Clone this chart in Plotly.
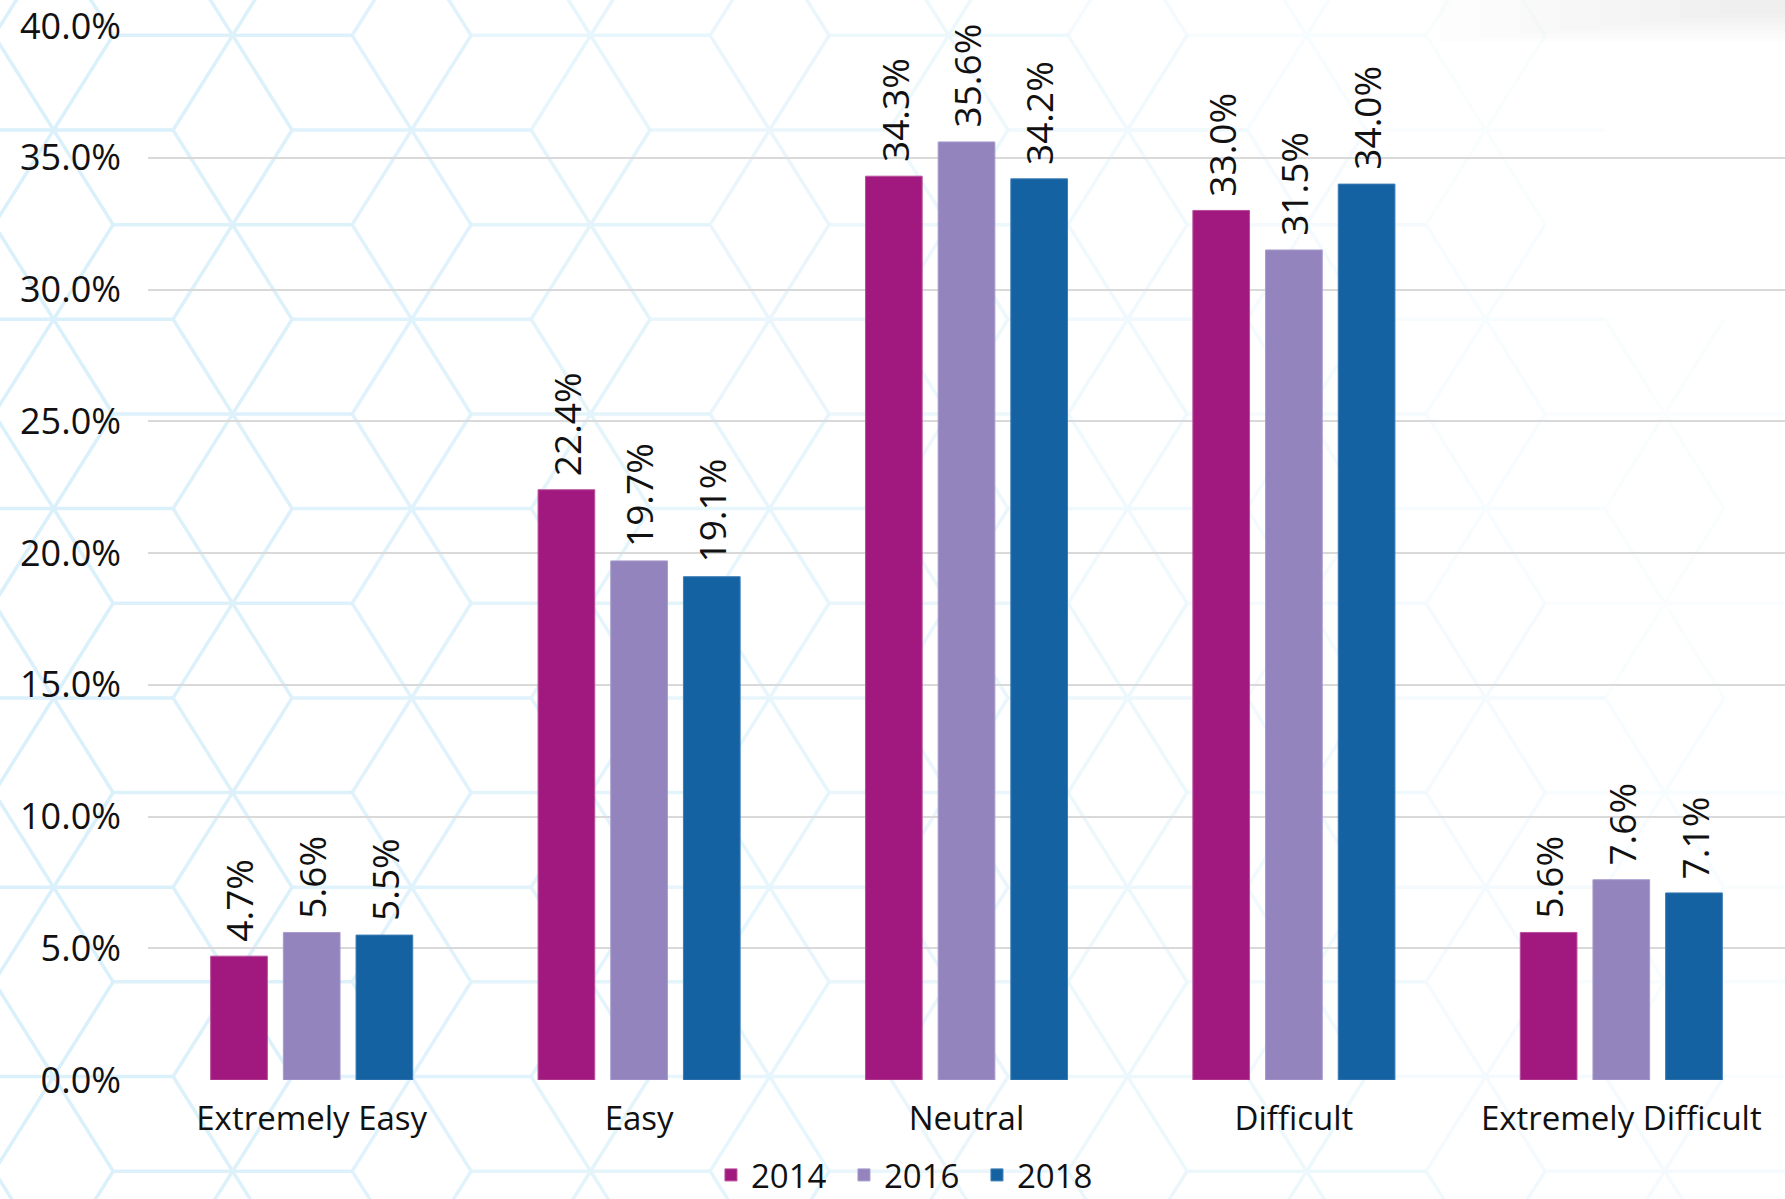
import plotly.graph_objects as go

# ---- data -------------------------------------------------------------
categories = ["Extremely Easy", "Easy", "Neutral", "Difficult", "Extremely Difficult"]
years = ["2014", "2016", "2018"]
values_2014 = [4.7, 22.4, 34.3, 33.0, 5.6]
values_2016 = [5.6, 19.7, 35.6, 31.5, 7.6]
values_2018 = [5.5, 19.1, 34.2, 34.0, 7.1]
y_tick_values = [0, 5, 10, 15, 20, 25, 30, 35, 40]
y_tick_labels = ["0.0%", "5.0%", "10.0%", "15.0%", "20.0%", "25.0%", "30.0%", "35.0%", "40.0%"]

series = [values_2014, values_2016, values_2018]
colors = ["#a1197e", "#9384be", "#1562a3"]
edge_colors = ["#b8509c", "#a89bcc", "#3c7cb5"]

# ---- page geometry ----------------------------------------------------
W, H = 1785, 1199
ML, MR, MT, MB = 148, 0, 26, 119
PW, PH = W - ML - MR, H - MT - MB
FONT = "Open Sans"

BARGAP = 0.334
BARGROUPGAP = 0.22
slot = (1 - BARGAP) / len(series)


def to_paper(x, y):
    return (x - ML) / PW, 1 - (y - MT) / PH


# ---- decorative hexagon lattice in the background --------------------
col_step, row_step = 179.0, 189.3
half_h, diag_dx, diag_dy = 119.5, 59.5, row_step / 2
levels = 12
paths = [[] for _ in range(levels)]


def strength(x, y):
    # lattice fades out towards the right, most quickly near the top
    s = 1 - (x / W) * (0.78 + 0.27 * (1 - y / H))
    return max(0.0, min(1.0, s))


for i in range(-1, 12):
    cx = 53.6 + col_step * i
    base = 130.0 if i % 2 == 0 else 130.0 - diag_dy
    for k in range(-1, 8):
        cy = base + row_step * k
        segs = [
            ((cx - half_h, cy), (cx + half_h, cy)),
            ((cx - diag_dx, cy + diag_dy), (cx + diag_dx, cy - diag_dy)),
            ((cx - diag_dx, cy - diag_dy), (cx + diag_dx, cy + diag_dy)),
        ]
        for (x0, y0), (x1, y1) in segs:
            s = strength((x0 + x1) / 2, (y0 + y1) / 2)
            lvl = min(levels - 1, int(s * levels))
            a = to_paper(x0, y0)
            b = to_paper(x1, y1)
            paths[lvl].append(f"M{a[0]:.5f},{a[1]:.5f}L{b[0]:.5f},{b[1]:.5f}")

shapes = []
base_rgb = (216, 239, 250)
for lvl, segs in enumerate(paths):
    if not segs or lvl == 0:
        continue
    s = (lvl + 0.5) / levels
    r, g, b = (round(255 - (255 - c) * s) for c in base_rgb)
    shapes.append(dict(type="path", xref="paper", yref="paper", layer="below",
                       path="".join(segs), line=dict(color=f"rgb({r},{g},{b})", width=3.5)))

# soft grey shade in the upper-right corner
for k in range(8):
    x0p, y0p = to_paper(1440 + 40 * k, 0)
    x1p, y1p = to_paper(W, 42 - 4 * k)
    shapes.append(dict(type="rect", xref="paper", yref="paper", layer="below",
                       x0=x0p, x1=x1p, y0=y1p, y1=y0p,
                       fillcolor="rgba(120,120,120,0.014)", line=dict(width=0)))

# ---- bars -------------------------------------------------------------
fig = go.Figure()
for name, vals, col, ecol in zip(years, series, colors, edge_colors):
    fig.add_trace(go.Bar(
        x=categories, y=vals, name=name,
        marker=dict(color=col, line=dict(color=ecol, width=1)),
        hoverinfo="skip",
    ))

# rotated value labels above each bar
annotations = []
for j, vals in enumerate(series):
    offset = (j - (len(series) - 1) / 2) * slot
    for i, v in enumerate(vals):
        annotations.append(dict(
            x=i + offset, y=v, xref="x", yref="y",
            text=f"{v:.1f}%", textangle=-90, showarrow=False,
            xanchor="center", yanchor="bottom", yshift=12,
            font=dict(family=FONT, size=37, color="#111111"),
        ))

fig.update_layout(
    width=W, height=H,
    margin=dict(l=ML, r=MR, t=MT, b=MB, autoexpand=False),
    paper_bgcolor="white",
    plot_bgcolor="rgba(0,0,0,0)",
    barmode="group",
    bargap=BARGAP,
    bargroupgap=BARGROUPGAP,
    font=dict(family=FONT, color="#111111"),
    shapes=shapes,
    annotations=annotations,
    showlegend=True,
    legend=dict(
        orientation="h", x=0.3439, xanchor="left", y=-0.0901, yanchor="middle",
        font=dict(family=FONT, size=33, color="#111111"),
        entrywidth=88, entrywidthmode="pixels",
        bgcolor="rgba(0,0,0,0)", traceorder="normal",
    ),
    xaxis=dict(
        showgrid=False, zeroline=False, showline=False, ticks="",
        tickfont=dict(family=FONT, size=33, color="#111111"),
        ticklabelstandoff=16,
        fixedrange=True,
    ),
    yaxis=dict(
        range=[0, 40], tickvals=y_tick_values, ticktext=y_tick_labels,
        showgrid=True, gridcolor="#d9d9d9", gridwidth=1.5,
        zeroline=False, showline=False, ticks="",
        tickfont=dict(family=FONT, size=36, color="#111111"),
        ticklabelstandoff=26, ticklabeloverflow="allow",
        fixedrange=True,
    ),
)

fig.write_html("out.html")
